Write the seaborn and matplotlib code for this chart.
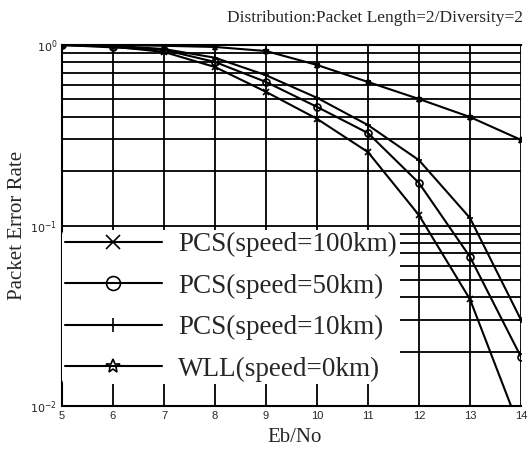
import numpy as np
import pandas as pd
import seaborn as sns
import matplotlib
matplotlib.use('Agg')
import matplotlib.pyplot as plt
from matplotlib.ticker import LogLocator, FixedLocator, NullFormatter

# values
ebno = [5, 6, 7, 8, 9, 10, 11, 12, 13, 14]
per_pcs100 = [1.0, 0.98, 0.915, 0.755, 0.55, 0.39, 0.255, 0.114, 0.039, 0.0072]
per_pcs50 = [1.0, 0.97, 0.94, 0.805, 0.624, 0.454, 0.325, 0.172, 0.067, 0.0187]
per_pcs10 = [1.0, 0.99, 0.95, 0.85, 0.68, 0.51, 0.36, 0.23, 0.11, 0.030]
per_wll0 = [1.0, 1.0, 0.99, 0.975, 0.926, 0.775, 0.624, 0.502, 0.399, 0.298]

labels = ['PCS(speed=100km)', 'PCS(speed=50km)', 'PCS(speed=10km)', 'WLL(speed=0km)']
marker_list = ['x', 'o', '+', '*']

if __name__ == '__main__':
    sns.set_style('white')
    plt.rcParams['font.family'] = ['Liberation Serif', 'DejaVu Serif']

    fig = plt.figure(figsize=(5.28, 4.66), dpi=100)
    ax = fig.add_axes([62 / 528, 60 / 466, (521 - 62) / 528, (406 - 45) / 466])

    for lab, vals, mk in zip(labels, [per_pcs100, per_pcs50, per_pcs10, per_wll0], marker_list):
        df = pd.DataFrame({'Eb/No': ebno, 'PER': vals})
        sns.lineplot(data=df, x='Eb/No', y='PER', marker=mk, color='black',
                     linewidth=1.5, markersize=5, markeredgecolor='black',
                     markerfacecolor='none', markeredgewidth=1.2, label=lab, ax=ax)

    ax.set_yscale('log')
    ax.set_xlim(5, 14)
    ax.set_ylim(0.01, 1)
    ax.xaxis.set_major_locator(FixedLocator(ebno))
    ax.yaxis.set_major_locator(FixedLocator([0.01, 0.1, 1]))
    ax.yaxis.set_minor_locator(LogLocator(base=10, subs=np.arange(2, 10)))
    ax.yaxis.set_minor_formatter(NullFormatter())
    ax.set_yticklabels(['$10^{-2}$', '$10^{-1}$', '$10^{0}$'])
    for t in ax.get_xticklabels() + ax.get_yticklabels():
        t.set_family('Liberation Sans')
        t.set_fontsize(8)
    ax.tick_params(direction='in', length=3, color='black')
    ax.grid(True, which='both', color='black', linewidth=1.3)
    for s in ax.spines.values():
        s.set_color('black')
        s.set_linewidth(1.5)
    ax.spines['right'].set_visible(False)

    ax.set_xlabel('Eb/No', fontsize=15)
    ax.xaxis.set_label_coords((295 - 62) / (521 - 62), -(428 - 406) / (406 - 45))
    ax.set_ylabel('Packet Error Rate', fontsize=15)
    ax.yaxis.set_label_coords(-(62 - 27) / (521 - 62), (406 - 225) / (406 - 45))
    fig.text(375 / 528, 0.962, 'Distribution:Packet Length=2/Diversity=2',
             ha='center', va='center', fontsize=12.5)

    handles, labs = ax.get_legend_handles_labels()
    leg = ax.legend(handles, labs, loc='lower left', bbox_to_anchor=(0.0, 0.06),
                    frameon=True, facecolor='white', edgecolor='none', framealpha=1,
                    fontsize=19.5, handlelength=3.6, handletextpad=0.6,
                    labelspacing=0.6, borderaxespad=0.0, borderpad=0.1)
    for h in leg.legend_handles:
        h.set_markersize(10)

    fig.savefig('out.png', dpi=100)
